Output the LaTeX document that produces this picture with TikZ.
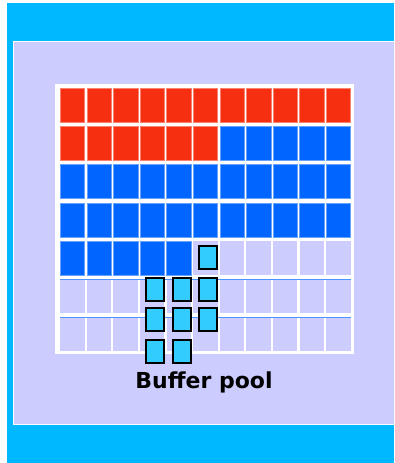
\documentclass[tikz,border=0pt]{standalone}
\usepackage{fontspec}
\setmainfont{DejaVu Sans}
\definecolor{cyanbg}{HTML}{00B8FF}
\definecolor{lav}{HTML}{CCCCFF}
\definecolor{redc}{HTML}{F52F10}
\definecolor{bluec}{HTML}{0066FF}
\definecolor{pagec}{HTML}{33CCFF}
\tikzset{
  cellbox/.style={minimum width=24.3pt,minimum height=34pt,inner sep=0pt,anchor=north west},
  redcell/.style={cellbox,fill=redc,draw=redc!60!white,line width=0.8pt},
  bluecell/.style={cellbox,fill=bluec,draw=bluec!60!white,line width=0.8pt},
  emptycell/.style={cellbox,fill=lav},
  pagebox/.style={minimum width=18pt,minimum height=23pt,inner sep=0pt,anchor=north west,fill=pagec,draw=black,line width=2pt},
  rowline/.style={draw=bluec!70!white,line width=0.8pt}
}
\begin{document}
\begin{tikzpicture}[x=1pt,y=-1pt]
\useasboundingbox (0,0) rectangle (394,463);
\fill[white] (0,0) rectangle (394,463);
\fill[cyanbg] (7,3) rectangle (394,463);
\begin{scope}
\clip (0,0) rectangle (394,463);
\filldraw[fill=lav,draw=white,line width=1.5pt] (13.5,41.5) rectangle (400,424.5);
\end{scope}
% grid background
\fill[white] (55,84) rectangle (354,354);
% cells
\foreach \r in {0,...,6}{
  \foreach \c in {0,...,10}{
    \pgfmathtruncatemacro{\idx}{\r*11+\c}
    \pgfmathsetmacro{\xx}{60+26.6*\c}
    \pgfmathsetmacro{\yy}{88+38.2*\r}
    \ifnum\idx<17
      \node[redcell] (c\r-\c) at (\xx,\yy) {};
    \else\ifnum\idx<49
      \node[bluecell] (c\r-\c) at (\xx,\yy) {};
    \else
      \node[emptycell] (c\r-\c) at (\xx,\yy) {};
    \fi\fi
  }
}
% thin blue row lines
\draw[rowline] (c5-0.north west) -- (c5-10.north east);
\draw[rowline] (c6-0.north west) -- (c6-10.north east);
% pages in buffer
\node[pagebox] (p1) at (198,245) {};
\node[pagebox] (p2) at (145,277) {};
\node[pagebox] (p3) at (172,277) {};
\node[pagebox] (p4) at (198,277) {};
\node[pagebox] (p5) at (145,307) {};
\node[pagebox] (p6) at (172,307) {};
\node[pagebox] (p7) at (198,307) {};
\node[pagebox] (p8) at (145,339) {};
\node[pagebox] (p9) at (172,339) {};
\node[anchor=base,font=\bfseries\fontsize{22}{26}\selectfont,inner sep=0pt] (lbl) at (204,388) {Buffer pool};
\end{tikzpicture}
\end{document}
